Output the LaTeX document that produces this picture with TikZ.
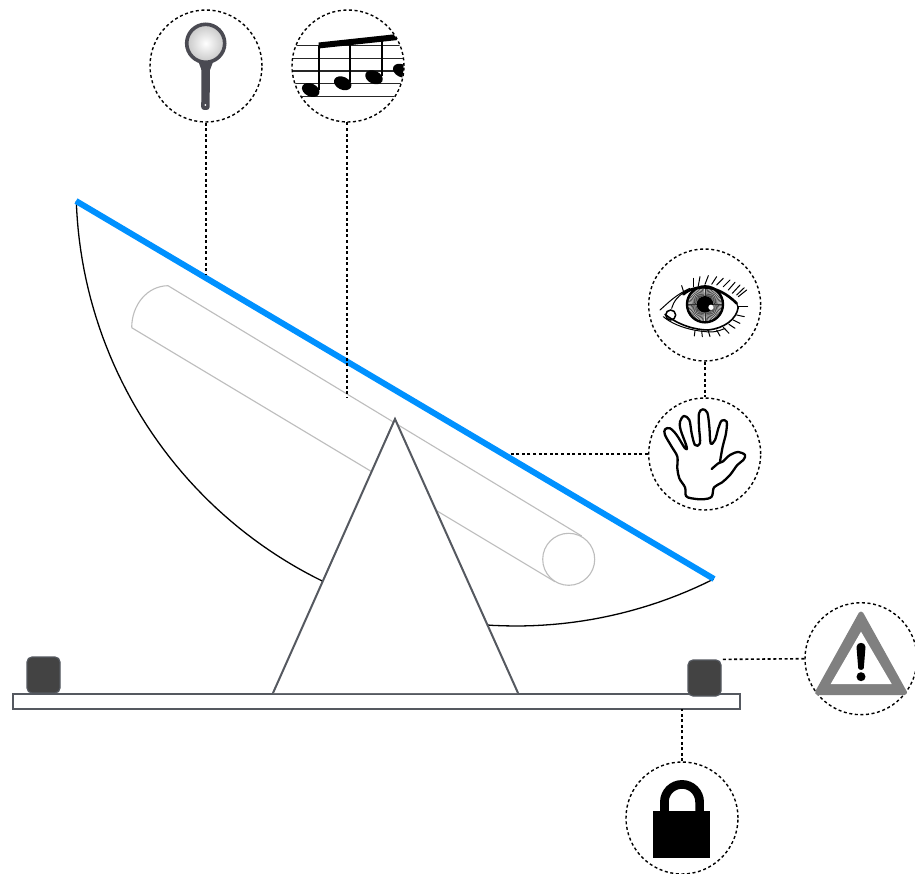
\documentclass[tikz,border=0pt]{standalone}
\usetikzlibrary{calc}
\definecolor{bluebeam}{HTML}{0091FF}
\definecolor{darkline}{HTML}{555960}
\definecolor{blockfill}{HTML}{434343}
\definecolor{capsule}{HTML}{BDBDBD}
\definecolor{warngray}{HTML}{808080}
\definecolor{maggray}{HTML}{4A4A52}
\tikzset{
  callout/.style={circle,draw=black,line width=1.4pt,dash pattern=on 3pt off 2.6pt,minimum size=112pt,inner sep=0pt},
  leader/.style={draw=black,line width=1.6pt,dash pattern=on 3pt off 2.6pt},
  block/.style={draw=darkline,fill=blockfill,line width=1.2pt,rounded corners=5pt,inner sep=0pt,minimum width=33pt,minimum height=36pt},
  outline/.style={draw=darkline,line width=2pt},
  ink/.style={draw=black,line width=1.5pt,line join=round,line cap=round},
  thinink/.style={draw=black,line width=1pt,line cap=round},
}
\begin{document}
\begin{tikzpicture}[x=1pt,y=-1pt]
\useasboundingbox (0,0) rectangle (915,874);
\fill[white] (0,0) rectangle (915,874);
% swinging sector
\draw[black,line width=1.3pt] plot[domain=178:63.3,samples=90] ({516+440*cos(\x)},{186+440*sin(\x)});
% capsule
\draw[capsule,line width=1.1pt] (131.7,327.7) .. controls (131.7,305) and (147,286) .. (168,285.7) -- (581.7,536);
\draw[capsule,line width=1.1pt] (131.7,327.7) -- (555,581.7);
\node[circle,draw=capsule,line width=1.1pt,minimum size=52pt,inner sep=0pt] (roller) at (568.7,559.3) {};
% beam
\coordinate (beamL) at (76,201);
\coordinate (beamR) at (714,579);
\draw[bluebeam,line width=6pt] (beamL) -- (beamR);
% callouts
\node[callout] (mag) at (206,66) {};
\node[callout] (notes) at (348,66) {};
\node[callout] (eye) at (704.7,305) {};
\node[callout] (hand) at (704.7,454) {};
\node[callout] (warn) at (861,658.7) {};
\node[callout] (lock) at (682,818) {};
% base parts
\path[fill=white,outline] (12.5,693.5) rectangle (740,709);
\coordinate (barS) at (682,709);
\path[fill=white,outline] (273,693) -- (395,419) -- (518,693);
\node[block] (blockL) at (43.5,675) {};
\node[block] (blockR) at (704.5,678) {};
% leaders
\coordinate (magEnd) at (206,274);
\coordinate (notesEnd) at (347,398);
\coordinate (handEnd) at (510,454);
\draw[leader] (mag.south) -- (magEnd);
\draw[leader] (347,122.5) -- (notesEnd);
\draw[leader] (eye.south) -- (hand.north);
\draw[leader] (hand.west) -- (handEnd);
\draw[leader] (warn.west) -- (blockR.north east);
\draw[leader] (lock.north) -- (barS);
% magnifier icon
\begin{scope}
  \fill[maggray,rounded corners=3pt] (201.5,62) -- (210,62) -- (209.6,110) -- (201.2,110) -- cycle;
  \fill[maggray] (198.5,62) -- (213,62) -- (210,70) -- (201.5,70) -- cycle;
  \shade[outer color=black!22,inner color=white,draw=maggray,line width=3.6pt] (205.7,43.3) circle (19pt);
  \fill[white] (205.3,105) circle (1pt);
\end{scope}
% notes icon
\begin{scope}
  \clip (notes.center) circle (55.5pt);
  \foreach \yy in {45.7,58.3,71,83.7,96.3} \draw[black!85,line width=1.3pt] (290,\yy) -- (410,\yy);
  \foreach \xa/\ya/\yb in {319/46/90,350/44/82,381.7/40/76} \draw[black,line width=1.7pt] (\xa,\ya) -- (\xa,\yb);
  \fill[black] (318.5,42.5) -- (397.5,34) -- (398,40) -- (318.5,48.5) -- cycle;
  \foreach \xa/\ya in {310.7/90,342.7/83.3,374/77.3,401.7/70.7}
    \fill[black,rotate around={-25:(\xa,\ya)}] (\xa,\ya) ellipse (9.2pt and 6.4pt);
\end{scope}
% eye icon
\begin{scope}[shift={(655,265)},x=.3333pt,y=-.3333pt]
  \fill[black!12] (150,118) circle (55);
  \foreach \a in {0,5,...,355} \draw[black!80,line width=.55pt] (150,118) ++(\a:25) -- ++(\a:29);
  \draw[black,line width=2.4pt] (150,118) circle (54);
  \fill[black] (150,118) circle (25);
  \fill[white] (168,127) circle (8);
  \draw[thinink] (15,135) .. controls (35,118) and (60,90) .. (105,70);
  \draw[thinink] (50,130) .. controls (55,110) and (70,90) .. (100,74);
  \draw[black,line width=2.6pt,line cap=round] (85,88) .. controls (120,58) and (185,55) .. (245,115);
  \draw[black,line width=1.2pt,line cap=round] (245,115) -- (250,130);
  \draw[black,line width=1.6pt,line cap=round] (30,148) .. controls (70,180) and (120,195) .. (160,195) .. controls (205,190) and (245,165) .. (250,125);
  \draw[thinink] (25,155) .. controls (60,185) and (120,200) .. (170,201) .. controls (185,200) and (200,195) .. (210,190);
  \draw[black,line width=1.5pt] (47,150) circle (15);
  \foreach \xa/\ya/\xb/\yb in {115/65/115/40,130/62/135/35,150/58/160/32,170/58/185/35,185/60/205/40,205/65/225/45,220/75/240/52,232/85/255/60,245/90/268/68,250/95/275/75,85/78/80/62,120/197/118/213,140/198/142/215,160/198/165/215,185/195/195/213,205/187/222/205,222/178/240/190,235/165/255/175,245/150/268/155,250/125/278/125}
    \draw[thinink] (\xa,\ya) -- (\xb,\yb);
\end{scope}
% hand icon
\begin{scope}[shift={(650,400)},x=.3333pt,y=-.3333pt]
  \draw[ink,line width=2.3pt] plot[smooth,tension=.55] coordinates {(185,207) (205,190) (218,185) (240,165) (265,156) (285,165) (280,180) (262,195) (240,225) (215,248) (192,262) (185,290) (160,298) (125,295) (108,288) (105,262) (88,235) (82,205) (82,170) (65,140) (45,105) (45,88) (60,85) (80,105) (105,145) (110,140) (92,90) (90,65) (102,48) (118,60) (125,100) (135,135) (150,130) (147,80) (147,40) (158,28) (172,38) (178,80) (182,130) (195,120) (205,85) (215,62) (230,65) (228,100) (218,140) (210,185)};
\end{scope}
% warning icon
\fill[warngray,draw=warngray,line width=5pt,line join=round] (861,614) -- (817.5,692.5) -- (904.5,692.5) -- cycle;
\fill[white] (861,631.7) -- (830.7,684) -- (891.7,684) -- cycle;
\fill[black] (856.5,647) .. controls (856.5,641.5) and (865.5,641.5) .. (865.5,647) -- (863.8,668) .. controls (863.4,670.5) and (858.6,670.5) .. (858.2,668) -- cycle;
\fill[black] (861,676.7) circle (4.5pt);
% lock icon
\fill[black] (653.3,810.7) rectangle (710.3,857.7);
\draw[black,line width=8.7pt] (664.4,812) -- (664.4,802) arc[start angle=180,end angle=360,radius=17.6pt,y radius=-17.6pt] -- (699.6,812);
\end{tikzpicture}
\end{document}
